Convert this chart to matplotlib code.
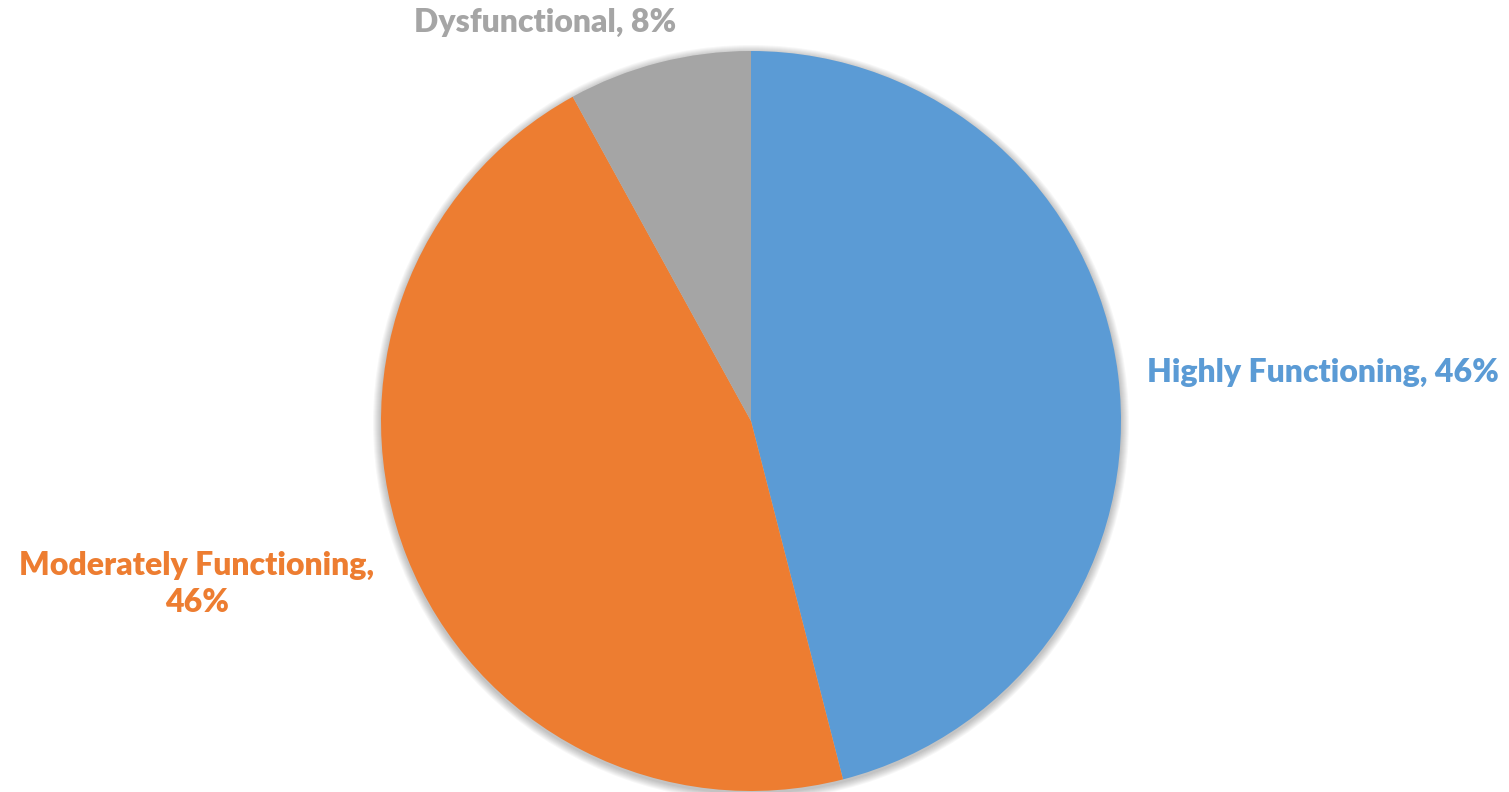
import matplotlib.pyplot as plt
from matplotlib.patches import Circle

categories = ["Highly Functioning", "Moderately Functioning", "Dysfunctional"]
shares = [46, 46, 8]
colors = ["#5B9BD5", "#ED7D31", "#A5A5A5"]

# label anchor points (figure pixels, y up) and line breaks
label_pos = [(1323, 420), (197, 208), (545, 770)]
label_fmt = ["{}, {}%", "{},\n{}%", "{}, {}%"]

fig = plt.figure(figsize=(15.09, 7.92), dpi=100)
ax = fig.add_axes([0, 0, 1, 1])

cx, cy, r = 751, 371, 370

# soft drop shadow under the pie
for i in range(8):
    ax.add_patch(Circle((cx, cy - 2), r + 1 + i, color="black",
                        alpha=0.03, lw=0, zorder=0))

ax.pie(shares, colors=colors, startangle=90, counterclock=False,
       center=(cx, cy), radius=r, frame=True,
       wedgeprops=dict(linewidth=0, zorder=2))
ax.set_xlim(0, 1509)
ax.set_ylim(0, 792)
ax.set_aspect("equal")
ax.axis("off")

for name, val, col, pos, fmt in zip(categories, shares, colors, label_pos, label_fmt):
    ax.text(pos[0], pos[1], fmt.format(name, val), color=col, fontsize=23,
            fontweight="heavy", family="Lato", ha="center", va="center",
            linespacing=1.3)

fig.savefig("out.png", dpi=100)
